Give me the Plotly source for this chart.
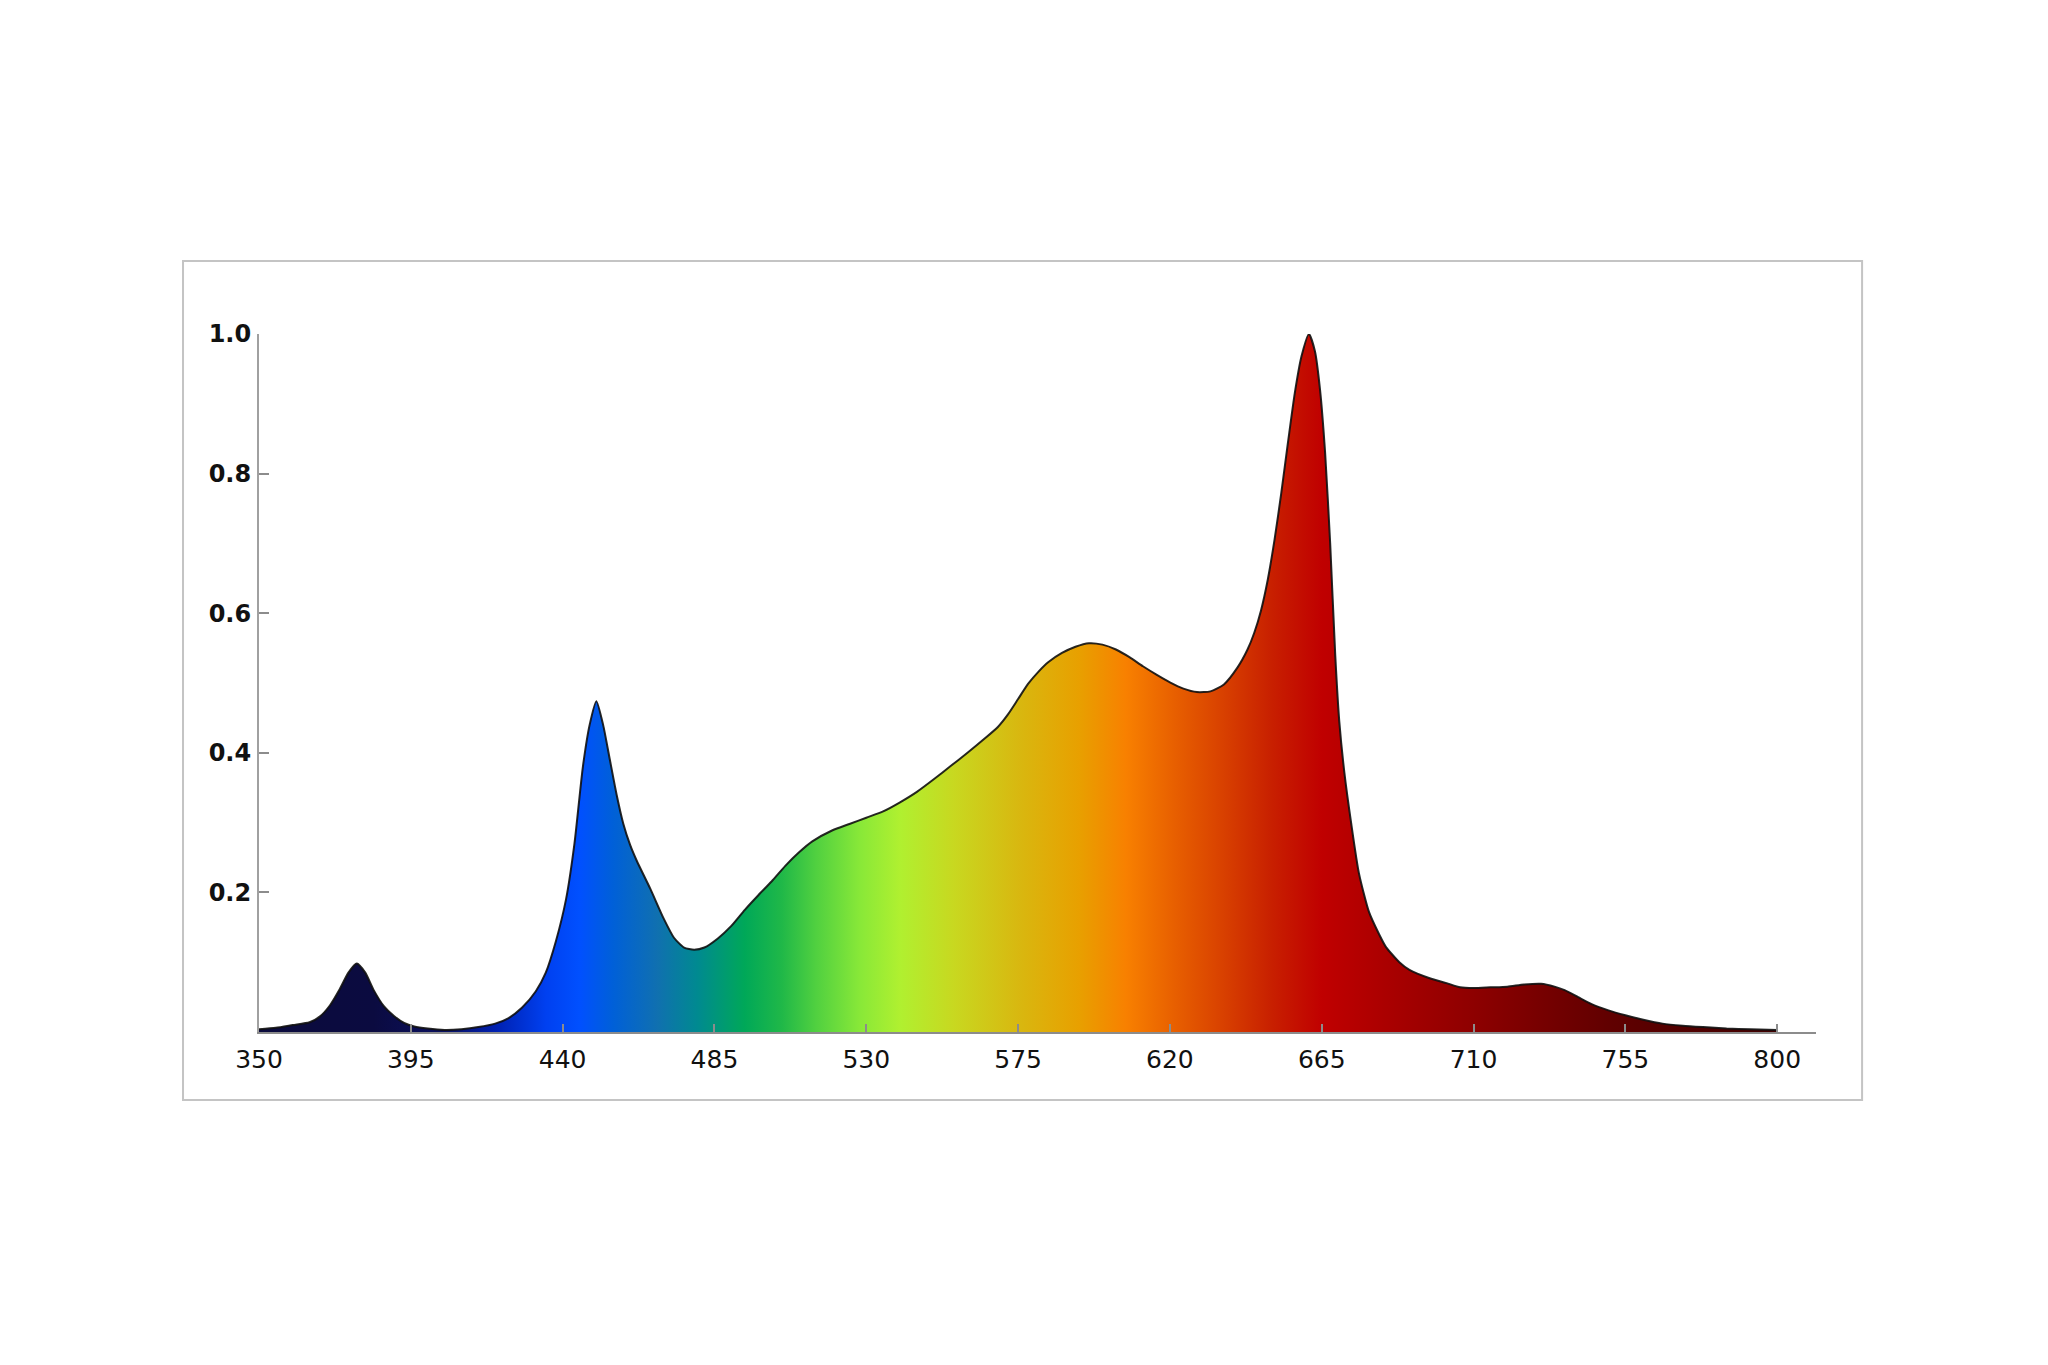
import plotly.graph_objects as go

# spectrum (wavelength nm, relative intensity)
wavelength = [
    350, 355, 360, 365, 368, 371, 374, 376.5, 379, 381.5, 384, 387, 390, 393, 396,
    400, 405, 410, 415, 420, 424, 428, 432, 435, 438, 441, 443.5, 446, 448, 450,
    452, 454, 456, 458, 460, 462, 466, 470, 473, 476, 479, 482, 486, 490, 494,
    498, 502, 506, 510, 514, 520, 525, 530, 535, 540, 545, 550, 555, 560, 565,
    569, 572, 575, 578, 581, 584, 588, 592, 596, 600, 604, 608, 612, 616, 620, 624, 628,
    632, 636, 640, 643, 645, 647, 649, 651, 653, 655, 657, 659, 661.2, 663, 664.5,
    666, 667.5, 669, 670.2, 671.7, 673.7, 676, 679, 682, 684, 688, 691, 697,
    702, 706, 710, 715, 720, 725, 730, 734, 737, 741, 745, 750, 755, 760, 766,
    772, 778, 785, 792, 800,
]
intensity = [
    0.004, 0.006, 0.010, 0.014, 0.022, 0.038, 0.062, 0.085, 0.098, 0.085, 0.060, 0.037, 0.023, 0.013, 0.008,
    0.005, 0.003, 0.004, 0.007, 0.012, 0.020, 0.035, 0.058, 0.085, 0.130, 0.190, 0.270, 0.380, 0.440, 0.474,
    0.440, 0.390, 0.340, 0.298, 0.268, 0.245, 0.205, 0.162, 0.135, 0.121, 0.118, 0.121, 0.134, 0.152, 0.175,
    0.196, 0.216, 0.238, 0.257, 0.273, 0.289, 0.298, 0.307, 0.316, 0.329, 0.344, 0.362, 0.381, 0.400, 0.420,
    0.437, 0.455, 0.477, 0.499, 0.516, 0.530, 0.543, 0.552, 0.557, 0.555, 0.548, 0.537, 0.524, 0.512, 0.501, 0.492, 0.487,
    0.488, 0.498, 0.522, 0.548, 0.572, 0.604, 0.648, 0.705, 0.772, 0.845, 0.915, 0.968, 1.000, 0.975, 0.920,
    0.830, 0.700, 0.540, 0.445, 0.372, 0.300, 0.228, 0.172, 0.140, 0.122, 0.100, 0.089, 0.077,
    0.070, 0.064, 0.063, 0.064, 0.065, 0.068, 0.069, 0.065, 0.060, 0.050, 0.040, 0.031, 0.024, 0.018, 0.012,
    0.009, 0.007, 0.005, 0.004, 0.003,
]

x_ticks = [350, 395, 440, 485, 530, 575, 620, 665, 710, 755, 800]
y_ticks = [0.2, 0.4, 0.6, 0.8, 1.0]

# rainbow colours sampled along the fill (nm -> colour)
grad_nm = [350, 384, 405, 420, 435, 445, 455, 468, 480, 494, 505, 515, 528, 540,
           556, 575, 593, 607, 621, 636, 650, 665, 679, 693, 708, 722, 736, 751, 800]
grad_col = ['#0b0b3d', '#0b0b40', '#0a1060', '#0020b0', '#0040f0', '#0050ff', '#0060d8',
            '#1070b0', '#008a90', '#00a858', '#20b848', '#50d040', '#88e838', '#b0f030',
            '#c8d820', '#d8b810', '#e8a000', '#f88000', '#e86000', '#d84000', '#c82000',
            '#c00000', '#b00000', '#a00000', '#900000', '#800000', '#700000', '#600000',
            '#400000']
colorscale = [[(n - 350) / 450, c] for n, c in zip(grad_nm, grad_col)]

fig = go.Figure()
fig.add_trace(go.Scatter(
    x=wavelength,
    y=intensity,
    mode='lines',
    line=dict(color='rgba(15,15,15,0.9)', width=2, shape='spline', smoothing=0.6),
    fill='tozeroy',
    fillgradient=dict(type='horizontal', colorscale=colorscale, start=350, stop=800),
    cliponaxis=False,
    hoverinfo='skip',
    showlegend=False,
))

# light grey frame around the chart
fig.add_shape(
    type='rect', xref='paper', yref='paper',
    x0=-0.0488, x1=1.0296, y0=-0.0974, y1=1.1046,
    line=dict(color='#c4c4c4', width=2), fillcolor='rgba(0,0,0,0)', layer='below',
)

# page body has an 8px margin, so the figure is 16px smaller than the window
fig.update_layout(
    width=2032,
    height=1349,
    paper_bgcolor='white',
    plot_bgcolor='white',
    font=dict(family='DejaVu Sans', size=25, color='#111111'),
    margin=dict(l=251, r=224, t=326, b=325),
    xaxis=dict(
        range=[350, 811.5],
        tickvals=x_ticks,
        ticktext=[str(v) for v in x_ticks],
        showgrid=False,
        zeroline=False,
        showline=True,
        linecolor='#8c8c8c',
        linewidth=2,
        ticks='inside',
        ticklen=8,
        tickwidth=2,
        tickcolor='#8c8c8c',
        ticklabelstandoff=4,
        automargin=False,
    ),
    yaxis=dict(
        range=[0, 1.0],
        tickvals=y_ticks,
        ticktext=['%.1f' % v for v in y_ticks],
        tickfont=dict(weight='bold', size=24),
        showgrid=False,
        zeroline=False,
        showline=True,
        linecolor='#a0a0a0',
        linewidth=2,
        ticks='inside',
        ticklen=10,
        tickwidth=2,
        tickcolor='#8c8c8c',
        ticklabelstandoff=1,
        automargin=False,
    ),
)

fig.write_html("out.html")
